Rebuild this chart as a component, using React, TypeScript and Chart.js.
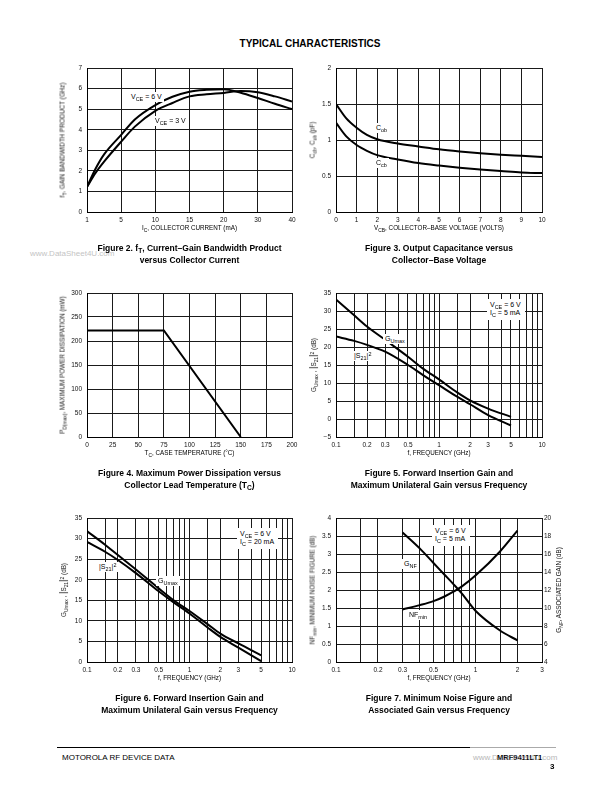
import React, { useEffect, useRef } from 'react';
import { Chart, registerables } from 'chart.js';

Chart.register(...registerables);

const FONT = '"Liberation Sans", Arial, Helvetica, sans-serif';
const GRID = '#1a1a1a';

// ---------- Figure 2 data ----------
const IC_TICKS = [1, 5, 10, 15, 20, 30, 40];
const IC_MA = [1, 2, 3, 5, 7, 10, 12.5, 15, 17.5, 20, 25, 30, 35, 40];
const FT_6V = [1.22, 2.1, 2.8, 3.75, 4.5, 5.2, 5.6, 5.85, 5.94, 5.97, 5.8, 5.54, 5.26, 5.0];
const FT_3V = [1.22, 1.9, 2.45, 3.42, 4.15, 4.92, 5.3, 5.62, 5.72, 5.79, 5.88, 5.82, 5.62, 5.37];

// ---------- Figure 3 data ----------
const VCB = [0, 0.5, 1, 1.5, 2, 3, 4, 5, 6, 7, 8, 9, 10];
const C_OB = [1.5, 1.3, 1.17, 1.07, 1.01, 0.95, 0.91, 0.87, 0.84, 0.815, 0.795, 0.78, 0.765];
const C_CB = [1.24, 1.05, 0.93, 0.85, 0.79, 0.73, 0.68, 0.645, 0.615, 0.59, 0.57, 0.55, 0.54];

// ---------- Figure 4 data ----------
const TC = [0, 75, 150];
const PD_MAX = [222, 222, 0];

// ---------- Figure 5 data ----------
const F5 = [0.1, 0.15, 0.2, 0.3, 0.5, 0.7, 1, 1.5, 2, 3, 5];
const GU5 = [33.2, 28.8, 25.7, 22, 17.3, 14, 11, 7.4, 5.2, 2.9, 0.6];
const S21_5 = [22.9, 21.7, 20.6, 18.7, 15, 12.2, 9.4, 6.2, 4.1, 1.1, -1.8];

// ---------- Figure 6 data ----------
const F6 = [0.1, 0.15, 0.2, 0.3, 0.5, 0.7, 1, 1.5, 2, 3, 5];
const GU6 = [31.8, 28.5, 26.0, 22.5, 17.9, 15, 12.4, 9.2, 6.9, 4.5, 1.6];
const S21_6 = [29.2, 26.8, 24.8, 21.6, 17.2, 14.5, 11.8, 8.4, 6.1, 3.5, 0.2];

// ---------- Figure 7 data ----------
const F7 = [0.3, 0.4, 0.5, 0.6, 0.7, 0.8, 1, 1.5, 2];
const NF_MIN = [1.46, 1.58, 1.69, 1.82, 1.96, 2.1, 2.4, 3.07, 3.65];
const G_NF = [18.4, 16.6, 15.0, 13.7, 12.6, 11.6, 9.7, 7.5, 6.4];

// ---------- log-axis grid / labels ----------
const LOG_GRID_10 = [0.1, 0.15, 0.2, 0.3, 0.4, 0.5, 0.6, 0.7, 0.8, 0.9, 1, 1.5, 2, 3, 4, 5, 6, 7, 8, 9, 10];
const LOG_LABELS_10 = [0.1, 0.2, 0.3, 0.5, 1, 2, 3, 5, 10];
const LOG_GRID_3 = [0.1, 0.15, 0.2, 0.3, 0.4, 0.5, 0.6, 0.7, 0.8, 0.9, 1, 1.5, 2, 3];
const LOG_LABELS_3 = [0.1, 0.2, 0.3, 0.5, 1, 2, 3];

const PAD_L = 40;
const PAD_T = 8;
const PAD_B = 16;

type Rect = { L: number; T: number; W: number; H: number };
const R1: Rect = { L: 87, T: 68, W: 205, H: 144 };
const R2: Rect = { L: 336, T: 68, W: 206, H: 144 };
const R3: Rect = { L: 87, T: 293, W: 205, H: 144 };
const R4: Rect = { L: 336, T: 293, W: 206, H: 144 };
const R5: Rect = { L: 87, T: 518, W: 205, H: 144 };
const R6: Rect = { L: 336, T: 518, W: 206, H: 144 };

function icToPos(ic: number) {
  for (let i = 0; i < IC_TICKS.length - 1; i++) {
    const a = IC_TICKS[i];
    const b = IC_TICKS[i + 1];
    if (ic <= b) return i + (ic - a) / (b - a);
  }
  return IC_TICKS.length - 1;
}

const pts = (xs: number[], ys: number[], fx = (v: number) => v) => xs.map((x, i) => ({ x: fx(x), y: ys[i] }));

const tickFont = { family: FONT, size: 6.5 };

function xAxis(o: any, ticks: any = {}) {
  return {
    type: 'linear',
    position: 'bottom',
    grid: { color: GRID, lineWidth: 1, drawTicks: false },
    border: { color: '#000', width: 1 },
    ticks: { font: tickFont, color: '#111', padding: 4, maxRotation: 0, autoSkip: false, ...ticks },
    afterFit: (s: any) => {
      s.height = PAD_B;
      s.paddingLeft = 0;
      s.paddingRight = 0;
    },
    ...o,
  };
}

function yAxis(o: any, ticks: any = {}) {
  return {
    type: 'linear',
    position: 'left',
    grid: { color: GRID, lineWidth: 1, drawTicks: false },
    border: { color: '#000', width: 1 },
    ticks: { font: tickFont, color: '#111', padding: 5, autoSkip: false, callback: (v: number) => (v < 0 ? '\u2212' + -v : String(v)), ...ticks },
    afterFit: (s: any) => {
      s.width = PAD_L;
      s.paddingTop = 0;
      s.paddingBottom = 0;
    },
    ...o,
  };
}

function logX(grid: number[], labels: number[], max: number) {
  return xAxis(
    {
      type: 'logarithmic',
      min: 0.1,
      max,
      afterBuildTicks: (s: any) => {
        s.ticks = grid.map((v) => ({ value: v }));
      },
    },
    { callback: (v: number) => (labels.includes(v) ? String(v) : '') }
  );
}

function baseOptions(scales: any, padR: number) {
  return {
    animation: false,
    responsive: false,
    devicePixelRatio: 1,
    layout: { padding: { top: PAD_T, right: padR, left: 0, bottom: 0 } },
    plugins: { legend: { display: false }, tooltip: { enabled: false } },
    elements: {
      point: { radius: 0 },
      line: { borderColor: '#000', borderWidth: 2, tension: 0.4, cubicInterpolationMode: 'monotone' },
    },
    scales,
  };
}

const line = (data: any[], extra: any = {}) => ({ data, borderColor: '#000', borderWidth: 2, pointRadius: 0, fill: false, ...extra });

function ChartBox({ rect, padR = 14, build }: { rect: Rect; padR?: number; build: () => any }) {
  const ref = useRef<HTMLCanvasElement | null>(null);
  useEffect(() => {
    const chart = new Chart(ref.current as HTMLCanvasElement, build());
    return () => chart.destroy();
  }, []);
  const w = rect.W + PAD_L + padR;
  const h = rect.H + PAD_T + PAD_B;
  return (
    <canvas
      ref={ref}
      width={w}
      height={h}
      style={{ position: 'absolute', left: rect.L - PAD_L, top: rect.T - PAD_T, width: w, height: h }}
    />
  );
}

const Sub = ({ c }: { c: string }) => (
  <span style={{ fontSize: '0.78em', position: 'relative', top: '0.32em' }}>{c}</span>
);
const Sup = ({ c }: { c: string }) => (
  <span style={{ fontSize: '0.78em', position: 'relative', top: '-0.4em' }}>{c}</span>
);

function At({ x, y, children, size = 7, bg = true, style = {} }: any) {
  return (
    <div
      style={{
        position: 'absolute',
        left: x,
        top: y,
        fontSize: size,
        lineHeight: 1.15,
        whiteSpace: 'nowrap',
        background: bg ? '#fff' : 'transparent',
        padding: bg ? '1px 2px' : 0,
        color: '#000',
        ...style,
      }}
    >
      {children}
    </div>
  );
}

function Center({ x, y, children, size = 6.5, bold = false, style = {} }: any) {
  return (
    <div
      style={{
        position: 'absolute',
        left: x,
        top: y,
        transform: 'translate(-50%, -50%)',
        fontSize: size,
        fontWeight: bold ? 'bold' : 'normal',
        lineHeight: 1,
        whiteSpace: 'nowrap',
        color: '#000',
        ...style,
      }}
    >
      {children}
    </div>
  );
}

function YTitle({ x, r, children }: any) {
  return (
    <div
      style={{
        position: 'absolute',
        left: x,
        top: r.T + r.H / 2,
        transform: 'translate(-50%, -50%) rotate(-90deg)',
        fontSize: 6.3,
        lineHeight: 1,
        whiteSpace: 'nowrap',
        color: '#111',
      }}
    >
      {children}
    </div>
  );
}

function Captions({ r, l1, l2 }: any) {
  const cx = r.L + r.W / 2;
  const b = r.T + r.H;
  return (
    <>
      <Center x={cx} y={b + 36} size={8.5} bold>
        {l1}
      </Center>
      <Center x={cx} y={b + 48} size={8.5} bold>
        {l2}
      </Center>
    </>
  );
}

function XTitle({ r, children }: any) {
  return (
    <Center x={r.L + r.W / 2} y={r.T + r.H + 16} size={6.3}>
      {children}
    </Center>
  );
}

export default function App() {
  return (
    <div
      style={{
        position: 'absolute',
        left: 0,
        top: 0,
        width: 612,
        height: 792,
        background: '#fff',
        fontFamily: FONT,
        overflow: 'hidden',
      }}
    >
      <Center x={310} y={44} size={10} bold>
        TYPICAL CHARACTERISTICS
      </Center>

      <div style={{ position: 'absolute', left: 30, top: 249, fontSize: 8, color: '#c4c4c4', whiteSpace: 'nowrap' }}>
        www.DataSheet4U.com
      </div>

      {/* Figure 2 */}
      <ChartBox
        rect={R1}
        build={() => ({
          type: 'line',
          data: {
            datasets: [line(pts(IC_MA, FT_6V, icToPos)), line(pts(IC_MA, FT_3V, icToPos))],
          },
          options: baseOptions(
            {
              x: xAxis({ min: 0, max: IC_TICKS.length - 1 }, { stepSize: 1, callback: (v: number) => String(IC_TICKS[v] ?? '') }),
              y: yAxis({ min: 0, max: 7 }, { stepSize: 1 }),
            },
            14
          ),
        })}
      />
      <YTitle x={63} r={R1}>
        f<Sub c="T" />, GAIN BANDWIDTH PRODUCT (GHz)
      </YTitle>
      <XTitle r={R1}>
        I<Sub c="C" />, COLLECTOR CURRENT (mA)
      </XTitle>
      <At x={129} y={92}>
        V<Sub c="CE" /> = 6 V
      </At>
      <At x={153} y={116}>
        V<Sub c="CE" /> = 3 V
      </At>
      <Captions
        r={R1}
        l1={
          <>
            Figure 2. f<Sub c="T" />, Current–Gain Bandwidth Product
          </>
        }
        l2="versus Collector Current"
      />

      {/* Figure 3 */}
      <ChartBox
        rect={R2}
        build={() => ({
          type: 'line',
          data: { datasets: [line(pts(VCB, C_OB)), line(pts(VCB, C_CB))] },
          options: baseOptions(
            {
              x: xAxis({ min: 0, max: 10 }, { stepSize: 1 }),
              y: yAxis({ min: 0, max: 2 }, { stepSize: 0.5 }),
            },
            14
          ),
        })}
      />
      <YTitle x={313} r={R2}>
        C<Sub c="cb" />, C<Sub c="ob" /> (pF)
      </YTitle>
      <XTitle r={R2}>
        V<Sub c="CB" />, COLLECTOR–BASE VOLTAGE (VOLTS)
      </XTitle>
      <At x={374} y={123}>
        C<Sub c="ob" />
      </At>
      <At x={374} y={158}>
        C<Sub c="cb" />
      </At>
      <Captions r={R2} l1="Figure 3. Output Capacitance versus" l2="Collector–Base Voltage" />

      {/* Figure 4 */}
      <ChartBox
        rect={R3}
        build={() => ({
          type: 'line',
          data: { datasets: [line(pts(TC, PD_MAX), { tension: 0, cubicInterpolationMode: 'default' })] },
          options: baseOptions(
            {
              x: xAxis({ min: 0, max: 200 }, { stepSize: 25 }),
              y: yAxis({ min: 0, max: 300 }, { stepSize: 50 }),
            },
            14
          ),
        })}
      />
      <YTitle x={63} r={R3}>
        P<Sub c="D(max)" />, MAXIMUM POWER DISSIPATION (mW)
      </YTitle>
      <XTitle r={R3}>
        T<Sub c="C" />, CASE TEMPERATURE (°C)
      </XTitle>
      <Captions
        r={R3}
        l1="Figure 4. Maximum Power Dissipation versus"
        l2={
          <>
            Collector Lead Temperature (T<Sub c="C" />)
          </>
        }
      />

      {/* Figure 5 */}
      <ChartBox
        rect={R4}
        build={() => ({
          type: 'line',
          data: { datasets: [line(pts(F5, GU5)), line(pts(F5, S21_5))] },
          options: baseOptions(
            {
              x: logX(LOG_GRID_10, LOG_LABELS_10, 10),
              y: yAxis({ min: -5, max: 35 }, { stepSize: 5 }),
            },
            14
          ),
        })}
      />
      <YTitle x={313} r={R4}>
        G<Sub c="Umax" /> , <span style={{ fontSize: '1.5em' }}>|</span>S<Sub c="21" />
        <span style={{ fontSize: '1.5em' }}>|</span>
        <Sup c="2" /> (dB)
      </YTitle>
      <XTitle r={R4}>f, FREQUENCY (GHz)</XTitle>
      <At x={383} y={334}>
        G<Sub c="Umax" />
      </At>
      <At x={352} y={351}>
        |S<Sub c="21" />|<Sup c="2" />
      </At>
      <At x={487} y={299} style={{ padding: '2px 4px 3px 3px' }}>
        <div>
          V<Sub c="CE" /> = 6 V
        </div>
        <div>
          I<Sub c="C" /> = 5 mA
        </div>
      </At>
      <Captions r={R4} l1="Figure 5. Forward Insertion Gain and" l2="Maximum Unilateral Gain versus Frequency" />

      {/* Figure 6 */}
      <ChartBox
        rect={R5}
        build={() => ({
          type: 'line',
          data: { datasets: [line(pts(F6, GU6)), line(pts(F6, S21_6))] },
          options: baseOptions(
            {
              x: logX(LOG_GRID_10, LOG_LABELS_10, 10),
              y: yAxis({ min: 0, max: 35 }, { stepSize: 5 }),
            },
            14
          ),
        })}
      />
      <YTitle x={63} r={R5}>
        G<Sub c="Umax" /> , <span style={{ fontSize: '1.5em' }}>|</span>S<Sub c="21" />
        <span style={{ fontSize: '1.5em' }}>|</span>
        <Sup c="2" /> (dB)
      </YTitle>
      <XTitle r={R5}>f, FREQUENCY (GHz)</XTitle>
      <At x={97} y={562}>
        |S<Sub c="21" />|<Sup c="2" />
      </At>
      <At x={156} y={576}>
        G<Sub c="Umax" />
      </At>
      <At x={237} y={528} style={{ padding: '2px 4px 3px 3px' }}>
        <div>
          V<Sub c="CE" /> = 6 V
        </div>
        <div>
          I<Sub c="C" /> = 20 mA
        </div>
      </At>
      <Captions r={R5} l1="Figure 6. Forward Insertion Gain and" l2="Maximum Unilateral Gain versus Frequency" />

      {/* Figure 7 */}
      <ChartBox
        rect={R6}
        padR={16}
        build={() => ({
          type: 'line',
          data: {
            datasets: [line(pts(F7, NF_MIN)), line(pts(F7, G_NF), { yAxisID: 'y1' })],
          },
          options: baseOptions(
            {
              x: logX(LOG_GRID_3, LOG_LABELS_3, 3),
              y: yAxis({ min: 0, max: 4 }, { stepSize: 0.5 }),
              y1: {
                type: 'linear',
                position: 'right',
                min: 4,
                max: 20,
                grid: { drawOnChartArea: false, drawTicks: false },
                border: { display: false },
                ticks: { font: tickFont, color: '#111', padding: 2, stepSize: 2, autoSkip: false },
                afterFit: (s: any) => {
                  s.width = 16;
                  s.paddingTop = 0;
                  s.paddingBottom = 0;
                },
              },
            },
            0
          ),
        })}
      />
      <YTitle x={313} r={R6}>
        NF<Sub c="min" />, MINIMUM NOISE FIGURE (dB)
      </YTitle>
      <YTitle x={559} r={R6}>
        G<Sub c="NF" />, ASSOCIATED GAIN (dB)
      </YTitle>
      <XTitle r={R6}>f, FREQUENCY (GHz)</XTitle>
      <At x={402} y={559}>
        G<Sub c="NF" />
      </At>
      <At x={407} y={610}>
        NF<Sub c="min" />
      </At>
      <At x={432} y={525} style={{ padding: '2px 4px 3px 3px' }}>
        <div>
          V<Sub c="CE" /> = 6 V
        </div>
        <div>
          I<Sub c="C" /> = 5 mA
        </div>
      </At>
      <Captions r={R6} l1="Figure 7. Minimum Noise Figure and" l2="Associated Gain versus Frequency" />

      {/* Footer */}
      <div style={{ position: 'absolute', left: 57, top: 747, width: 413, height: 1, background: '#000' }} />
      <div style={{ position: 'absolute', left: 470, top: 747, width: 86, height: 1, background: '#aaa' }} />
      <div style={{ position: 'absolute', left: 62, top: 753, fontSize: 8, whiteSpace: 'nowrap' }}>MOTOROLA RF DEVICE DATA</div>
      <div style={{ position: 'absolute', left: 497, top: 753, fontSize: 7.5, fontWeight: 'bold', whiteSpace: 'nowrap' }}>MRF9411LT1</div>
      <div style={{ position: 'absolute', left: 473, top: 753, fontSize: 8, color: '#999', whiteSpace: 'nowrap', opacity: 0.7 }}>
        www.DataSheet4U.com
      </div>
      <div style={{ position: 'absolute', left: 550, top: 762, fontSize: 8, fontWeight: 'bold' }}>3</div>
    </div>
  );
}
